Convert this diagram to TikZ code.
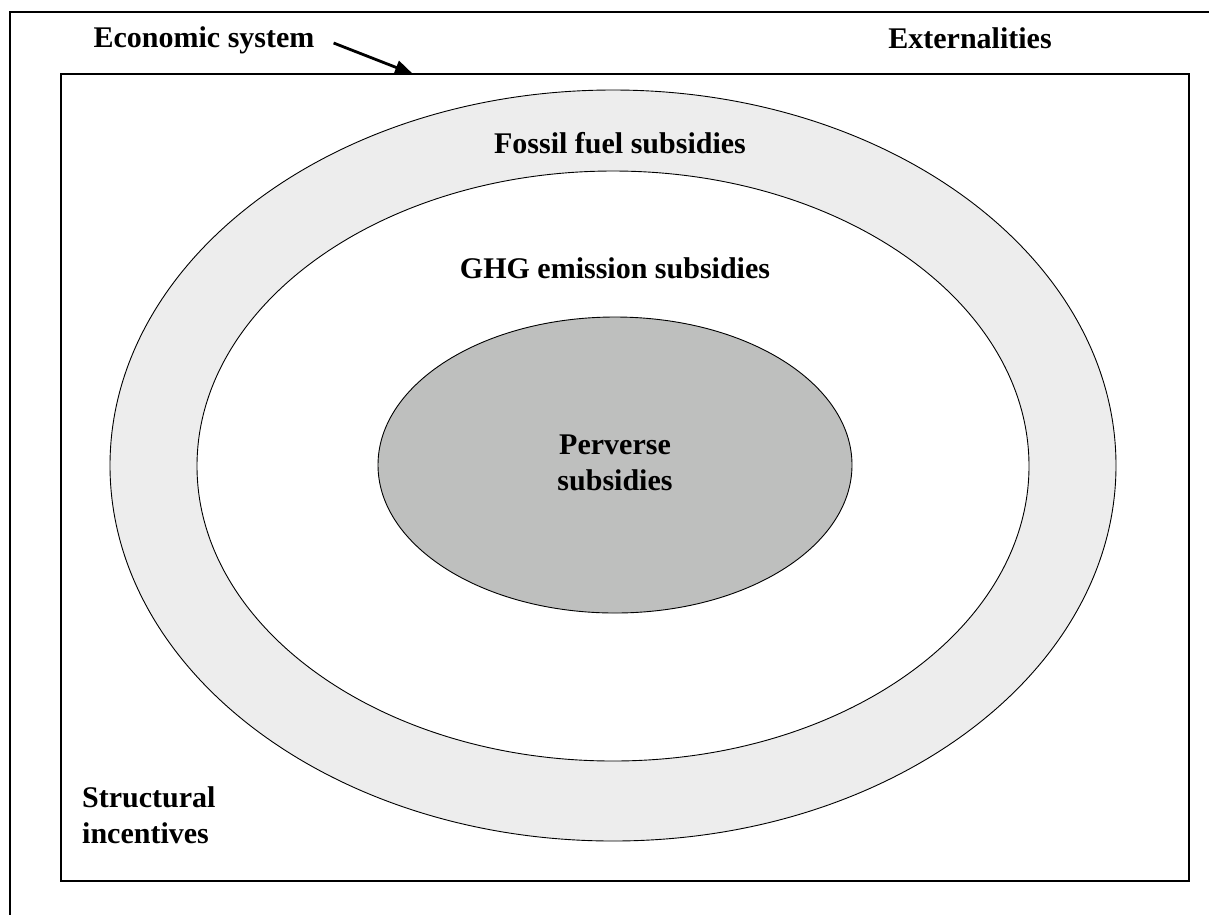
\documentclass[tikz,border=0pt]{standalone}
\usepackage{fontspec}
\setmainfont{Liberation Serif}
\usetikzlibrary{arrows.meta,shapes.geometric}
\definecolor{bandgray}{HTML}{EDEDED}
\definecolor{coregray}{HTML}{BEBFBE}
\begin{document}
\begin{tikzpicture}[x=1pt,y=-1pt,
  lbl/.style={font=\fontsize{30}{36}\selectfont\bfseries, inner sep=0pt, align=center},
  ring/.style={ellipse, draw=black, line width=0.9pt, inner sep=0pt},
  pointer/.style={line width=2.8pt, -{Triangle[length=18pt,width=14pt]}}]
\useasboundingbox (0,0) rectangle (1209,914);
% outer frame (cut by the page edges)
\draw[line width=2.8pt] (10,930) -- (10,12) -- (1225,12);
% economic system box
\node[draw=black, line width=2.2pt, minimum width=1128pt, minimum height=807pt, inner sep=0pt] (sys) at (625,477.5) {};
% rings
\node[ring, fill=bandgray, minimum width=1006pt, minimum height=751pt] (fossil) at (613,465.5) {};
\node[ring, fill=white, minimum width=832pt, minimum height=590pt] (ghg) at (613,466) {};
\node[ring, fill=coregray, minimum width=474pt, minimum height=296pt] (perv) at (615,465) {};
% labels
\node[lbl] (econ) at (204,40) {Economic system};
\node[lbl] (ext) at (970,38) {Externalities};
\node[lbl] (fossiltxt) at (620,143) {Fossil fuel subsidies};
\node[lbl] (ghgtxt) at (615,268) {GHG emission subsidies};
\node[lbl] (pervtxt) at (615,463) {Perverse\\subsidies};
\node[lbl, align=left, anchor=west] (struct) at (82,815) {Structural\\incentives};
% arrow
\coordinate (tip) at (413,74);
\draw[pointer] ([xshift=19pt,yshift=-3pt]econ.east) -- (tip);
\end{tikzpicture}
\end{document}
